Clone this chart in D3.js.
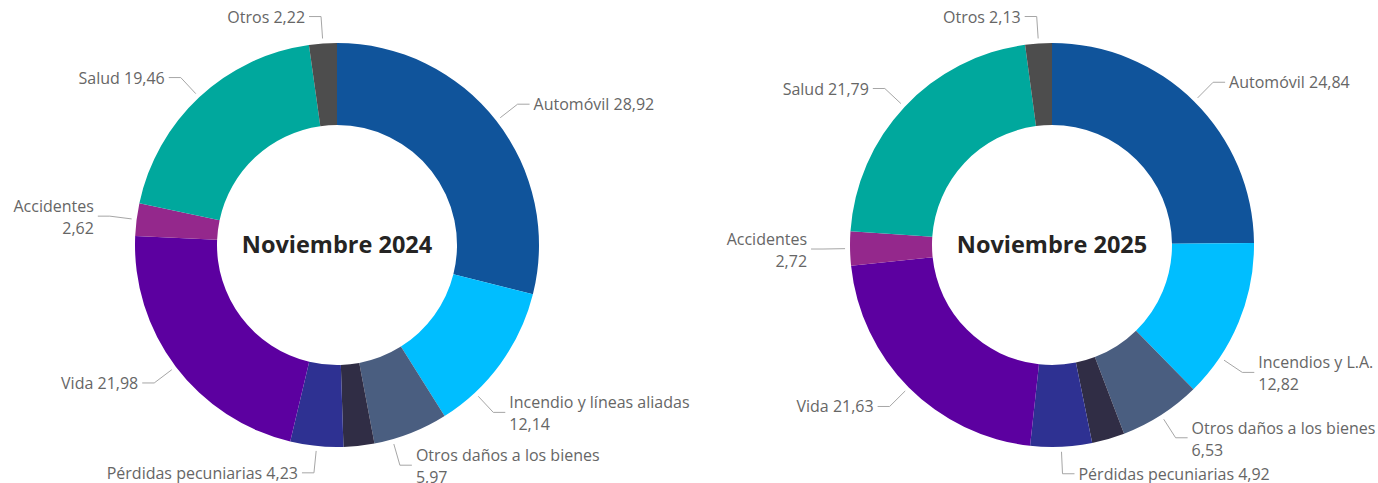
<!DOCTYPE html>
<html>
<head>
<meta charset="utf-8">
<script src="https://cdn.jsdelivr.net/npm/d3@7"></script>
<style>
  body { margin: 0; background: #fff; }
  svg { display: block; }
</style>
</head>
<body>
<div id="chart"></div>
<script>
// slice names, clockwise from 12 o'clock (index 3 has no label in the original)
var labels2024 = ["Automóvil", "Incendio y líneas aliadas", "Otros daños a los bienes", "Resto",
                  "Pérdidas pecuniarias", "Vida", "Accidentes", "Salud", "Otros"];
var labels2025 = ["Automóvil", "Incendios y L.A.", "Otros daños a los bienes", "Resto",
                  "Pérdidas pecuniarias", "Vida", "Accidentes", "Salud", "Otros"];
var values2024 = [28.92, 12.14, 5.97, 2.46, 4.23, 21.98, 2.62, 19.46, 2.22];
var values2025 = [24.84, 12.82, 6.53, 2.62, 4.92, 21.63, 2.72, 21.79, 2.13];
var titles = ["Noviembre 2024", "Noviembre 2025"];

var colors = ["#10549B", "#00BEFF", "#4A5E80", "#302D45", "#2E3192",
              "#5C00A0", "#94288C", "#00A89D", "#4D4D4D"];

// label layout
var hiddenLabel = [3];
var twoLine = [1, 2, 6];
var angleShift = [{1: 11, 2: 5.5}, {1: 11.3}]; // degrees, leader moved off the slice middle

var W = 1378, H = 483,
    R = 202, r = 120,
    centers = [[337, 245], [1052, 245]];

var fmt = d3.formatLocale({decimal: ",", thousands: ".", grouping: [3], currency: ["", ""]}).format(".2f");

var svg = d3.select("#chart").append("svg")
  .attr("width", W)
  .attr("height", H);

var pie = d3.pie().sort(null).value(function (d) { return d.value; });
var arc = d3.arc().innerRadius(r).outerRadius(R);

[values2024, values2025].forEach(function (vals, k) {
  var names = k === 0 ? labels2024 : labels2025;
  var data = vals.map(function (v, i) { return {name: names[i], value: v, idx: i}; });
  var cx = centers[k][0], cy = centers[k][1];

  var g = svg.append("g").attr("transform", "translate(" + cx + "," + cy + ")");

  var slices = pie(data);

  g.selectAll("path.slice")
    .data(slices)
    .enter()
    .append("path")
    .attr("class", "slice")
    .attr("d", arc)
    .attr("fill", function (d) { return colors[d.data.idx]; });

  // leader lines + labels
  slices.forEach(function (s) {
    var i = s.data.idx;
    if (hiddenLabel.indexOf(i) !== -1) return;
    var a = (s.startAngle + s.endAngle) / 2 + (angleShift[k][i] || 0) * Math.PI / 180;
    var sx = Math.sin(a), sy = -Math.cos(a);
    var side = sx >= 0 ? 1 : -1;
    var p0 = [(R + 5) * sx, (R + 5) * sy],
        p1 = [(R + 27) * sx, (R + 27) * sy],
        p2 = [p1[0] + side * 12, p1[1]];

    g.append("path")
      .attr("d", d3.line()([p0, p1, p2]))
      .attr("fill", "none")
      .attr("stroke", "#A6A6A6")
      .attr("stroke-width", 1);

    var t = g.append("text")
      .attr("x", p2[0] + side * 4)
      .attr("text-anchor", side > 0 ? "start" : "end")
      .style("font-family", "'Segoe UI', 'Open Sans', sans-serif")
      .style("font-size", "16px")
      .style("fill", "#666666");

    if (twoLine.indexOf(i) !== -1) {
      t.append("tspan").attr("x", p2[0] + side * 4).attr("y", p1[1] - 10)
        .attr("dominant-baseline", "central").text(s.data.name);
      t.append("tspan").attr("x", p2[0] + side * 4).attr("y", p1[1] + 12)
        .attr("dominant-baseline", "central").text(fmt(s.data.value));
    } else {
      t.attr("y", p1[1])
        .attr("dominant-baseline", "central")
        .text(s.data.name + " " + fmt(s.data.value));
    }
  });

  // centre title
  g.append("text")
    .attr("x", 0)
    .attr("y", -1)
    .attr("text-anchor", "middle")
    .attr("dominant-baseline", "central")
    .style("font-family", "'Segoe UI', 'Open Sans', sans-serif")
    .style("font-weight", "bold")
    .style("font-size", "23.5px")
    .style("fill", "#252423")
    .text(titles[k]);
});
</script>
</body>
</html>
